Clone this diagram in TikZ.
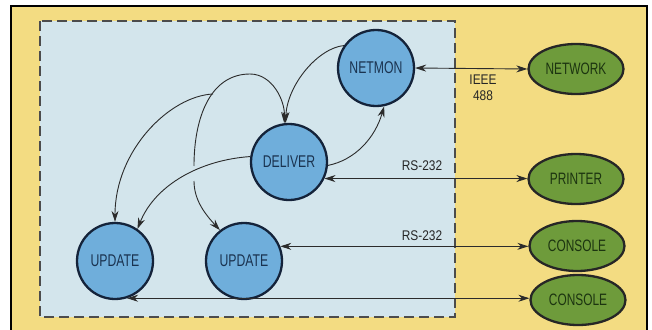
\documentclass[tikz,border=0pt]{standalone}
\usepackage{fontspec}
\setmainfont{Liberation Sans}
\newfontfamily\nodefont{Liberation Sans}[FakeStretch=0.72]
\newfontfamily\lblfont{Liberation Sans}[FakeStretch=0.85]
\usetikzlibrary{arrows.meta,shapes.geometric}
\definecolor{bgyellow}{HTML}{F3DC82}
\definecolor{bgblue}{HTML}{D3E5EC}
\definecolor{procblue}{HTML}{6FAEDB}
\definecolor{navy}{HTML}{14233A}
\definecolor{devgreen}{HTML}{6E9B3B}
\definecolor{darkgreen}{HTML}{1C3410}
\definecolor{txtnavy}{HTML}{1A3350}
\definecolor{wire}{HTML}{2B2B2B}
\tikzset{
  proc/.style={circle, draw=navy, line width=2.3pt, fill=procblue, minimum size=76pt, inner sep=0pt,
    text=txtnavy, font=\nodefont\fontsize{17}{18}\selectfont},
  dev/.style={ellipse, draw=black!85, line width=2.3pt, fill=devgreen, minimum width=95pt, minimum height=50pt, inner sep=0pt,
    text=darkgreen, font=\nodefont\fontsize{16.5}{18}\selectfont},
  conn/.style={draw=wire, line width=0.9pt},
  tip/.style={-{Stealth[length=11pt,width=7pt]}},
  tips/.style={{Stealth[length=11pt,width=7pt]}-{Stealth[length=11pt,width=7pt]}},
  lbl/.style={text=black!85, font=\lblfont\fontsize{14}{16.5}\selectfont, inner sep=0pt, align=center}
}
\begin{document}
\begin{tikzpicture}[x=1pt,y=-1pt]
\useasboundingbox (0,0) rectangle (652,329);
\fill[white] (0,0) rectangle (652,329);
% outer frame
\filldraw[fill=bgyellow, draw=black, line width=2pt] (11,6) rectangle (647,345);
% dashed system boundary
\filldraw[fill=bgblue, draw=black!70, line width=1.1pt, dash pattern=on 10pt off 5pt] (40,21) rectangle (455,317);

% processes
\node[proc] (netmon)  at (376,68)  {NETMON};
\node[proc] (deliver) at (289,162) {DELIVER};
\node[proc] (upd1)    at (115,261) {UPDATE};
\node[proc] (upd2)    at (244,261) {UPDATE};

% devices
\node[dev] (network)  at (576,69)  {NETWORK};
\node[dev] (printer)  at (576,179) {PRINTER};
\node[dev] (console1) at (577,246) {CONSOLE};
\node[dev] (console2) at (578,300) {CONSOLE};

% internal flows
\draw[conn,tip] (netmon.145) .. controls (318,48) and (287,85) .. (deliver.95);
\coordinate (gapTop) at (194,166);
\coordinate (gapBot) at (194,181);
\coordinate (peak) at (250,74);
\draw[conn,tip] (gapTop) .. controls (194,118) and (210,74) .. (peak)
   .. controls (272,74) and (285,100) .. (deliver.97);
\draw[conn,tip] (gapBot) .. controls (194,200) and (205,214) .. (upd2.128);
\coordinate (branch) at (213,94);
\draw[conn,tip] (branch) .. controls (170,96) and (115,150) .. (upd1.north);
\draw[conn,tip] (deliver.172) .. controls (200,160) and (155,185) .. (upd1.55);
\draw[conn,tip] (deliver.-5) .. controls (355,160) and (375,138) .. (netmon.-78);

% external links
\draw[conn,tips] (netmon.east) -- (network.west);
\draw[conn,tips] (deliver.-25) -- (deliver.-25 -| printer.west);
\draw[conn,tips] (upd2.22) -- (upd2.22 -| console1.west);
\draw[conn,tips] (upd1.-72) -- (upd1.-72 -| console2.west);

% labels
\node[lbl] (l1) at (483,88) {IEEE\\488};
\node[lbl] (l2) at (422,166) {RS-232};
\node[lbl] (l3) at (422,236) {RS-232};
\end{tikzpicture}
\end{document}
